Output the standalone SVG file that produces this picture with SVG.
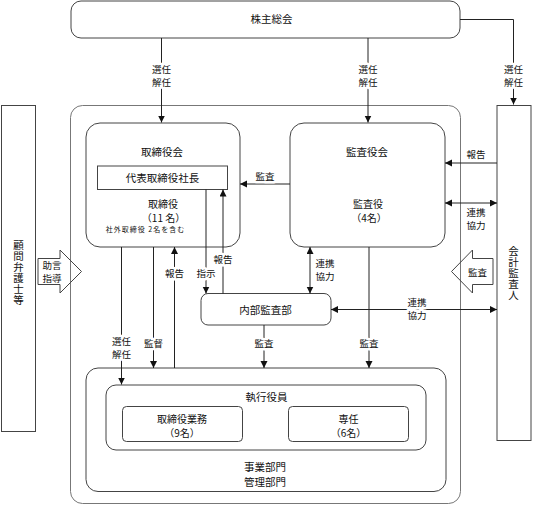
<svg xmlns="http://www.w3.org/2000/svg" width="533" height="506" viewBox="0 0 533 506">
<style>
text{font-family:"Noto Sans CJK JP","Noto Sans",sans-serif;fill:#111;text-anchor:middle}
.t{font-size:10.5px}
.m{font-size:10px}
.v{font-size:10.5px;writing-mode:vertical-rl;text-orientation:upright;letter-spacing:0.6px}
.s{font-size:7px;letter-spacing:1px}
.l{font-size:9.5px;stroke:#fff;stroke-width:5px;paint-order:stroke;stroke-linejoin:round}
.n{fill:#fff;stroke:#444;stroke-width:1}
.o{fill:none;stroke:#777;stroke-width:1}
.c{fill:none;stroke:#222;stroke-width:1}
.ba{fill:none;stroke:#444;stroke-width:1}
</style>
<defs>
<marker id="a" markerUnits="userSpaceOnUse" markerWidth="8" markerHeight="8" refX="7" refY="3.5" orient="auto-start-reverse" viewBox="0 0 8 8">
<path d="M0,0 L7,3.5 L0,7 z" fill="#111"/>
</marker>
</defs>
<rect width="533" height="506" fill="#fff"/>

<g id="outer"><rect class="o" x="70.5" y="105.5" width="390" height="398" rx="12"/></g>

<g id="kabunushi"><rect class="n" x="71" y="1" width="389" height="37" rx="10"/><text class="t" x="271.5" y="23">株主総会</text></g>

<g id="komon"><rect class="n" x="1.5" y="105.5" width="34" height="326"/>
<text class="v" x="18.5" y="273">顧問弁護士等</text></g>

<g id="kaikei"><rect class="n" x="497" y="105.5" width="34" height="335"/>
<text class="v" x="513.5" y="273.5">会計監査人</text></g>

<g id="torishimariyakukai"><rect class="n" x="86" y="123" width="154" height="124" rx="14"/>
<text class="t" x="162" y="155.5">取締役会</text>
<text class="m" x="163" y="208">取締役</text>
<text class="m" x="163.5" y="221.5">（11 名）</text>
<text class="s" x="145.5" y="231.5">社外取締役 2名を含む</text></g>

<g id="daihyo"><rect class="n" x="97.5" y="166" width="130" height="23.5"/><text class="t" x="162.5" y="182">代表取締役社長</text></g>

<g id="kansayakukai"><rect class="n" x="290" y="123" width="155" height="124" rx="14"/>
<text class="t" x="367" y="155.5">監査役会</text>
<text class="m" x="368" y="208">監査役</text>
<text class="m" x="369" y="221.5">（4名）</text></g>

<g id="naibu"><rect class="n" x="201" y="293.5" width="130" height="31.5" rx="7"/><text class="t" x="265.5" y="314">内部監査部</text></g>

<g id="jigyo"><rect class="n" x="86" y="368" width="360" height="123.5" rx="12"/>
<text class="t" x="265" y="471">事業部門</text>
<text class="t" x="265" y="485.5">管理部門</text></g>

<g id="shikko"><rect class="n" x="106" y="385" width="320" height="65" rx="10"/><text class="t" x="266.5" y="401">執行役員</text></g>

<g id="torigyomu"><rect class="n" x="122.5" y="406.5" width="120" height="35" rx="4"/>
<text class="m" x="182" y="423">取締役業務</text><text class="m" x="182" y="436.5">（9名）</text></g>

<g id="sennin"><rect class="n" x="288.5" y="406.5" width="120" height="35" rx="4"/>
<text class="m" x="348.5" y="423">専任</text><text class="m" x="348.5" y="436.5">（6名）</text></g>

<g id="connectors">
<line class="c" x1="161.5" y1="38" x2="161.5" y2="122.5" marker-end="url(#a)"/>
<text class="l" x="161.5" y="73">選任</text><text class="l" x="161.5" y="86">解任</text>
<line class="c" x1="368" y1="38" x2="368" y2="122.5" marker-end="url(#a)"/>
<text class="l" x="368" y="73">選任</text><text class="l" x="368" y="86">解任</text>
<path class="c" d="M460,19.5 H513.5 V104.5" marker-end="url(#a)"/>
<text class="l" x="513.5" y="73">選任</text><text class="l" x="513.5" y="86">解任</text>

<line class="c" x1="290" y1="184" x2="240" y2="184" marker-end="url(#a)"/>
<text class="l" x="265" y="179.5">監査</text>
<line class="c" x1="497" y1="163" x2="445" y2="163" marker-end="url(#a)"/>
<text class="l" x="476" y="158">報告</text>
<line class="c" x1="445" y1="203" x2="497" y2="203" marker-start="url(#a)" marker-end="url(#a)"/>
<text class="l" x="476" y="216">連携</text><text class="l" x="476" y="229">協力</text>

<line class="c" x1="121.5" y1="247" x2="121.5" y2="384.5" marker-end="url(#a)"/>
<text class="l" x="121.5" y="344.5">選任</text><text class="l" x="121.5" y="357.5">解任</text>
<line class="c" x1="153.5" y1="247" x2="153.5" y2="368" marker-end="url(#a)"/>
<text class="l" x="153.5" y="347">監督</text>
<line class="c" x1="174.5" y1="368" x2="174.5" y2="247" marker-end="url(#a)"/>
<text class="l" x="174.5" y="277">報告</text>
<line class="c" x1="206" y1="189.5" x2="206" y2="293.5" marker-end="url(#a)"/>
<text class="l" x="206" y="277">指示</text>
<line class="c" x1="223" y1="293.5" x2="223" y2="189.5" marker-end="url(#a)"/>
<text class="l" x="223" y="263">報告</text>
<line class="c" x1="310" y1="247" x2="310" y2="293.5" marker-start="url(#a)" marker-end="url(#a)"/>
<text class="l" x="325" y="267">連携</text><text class="l" x="325" y="280">協力</text>
<line class="c" x1="264" y1="325" x2="264" y2="368" marker-end="url(#a)"/>
<text class="l" x="264" y="347">監査</text>
<line class="c" x1="369" y1="247" x2="369" y2="368" marker-end="url(#a)"/>
<text class="l" x="369" y="347">監査</text>
<line class="c" x1="331" y1="309.5" x2="497" y2="309.5" marker-start="url(#a)" marker-end="url(#a)"/>
<text class="l" x="417" y="306">連携</text><text class="l" x="417" y="319">協力</text>

<polygon class="ba" points="38,258.5 60,258.5 60,250 81.5,271.5 60,293 60,284.5 38,284.5"/>
<text class="t" x="52" y="269" style="font-size:9.5px">助言</text><text class="t" x="52" y="282" style="font-size:9.5px">指導</text>
<polygon class="ba" points="493,258.5 472.5,258.5 472.5,250 451.5,271.5 472.5,293 472.5,284.5 493,284.5"/>
<text class="t" x="477.5" y="276" style="font-size:9.5px">監査</text>
</g>
</svg>
